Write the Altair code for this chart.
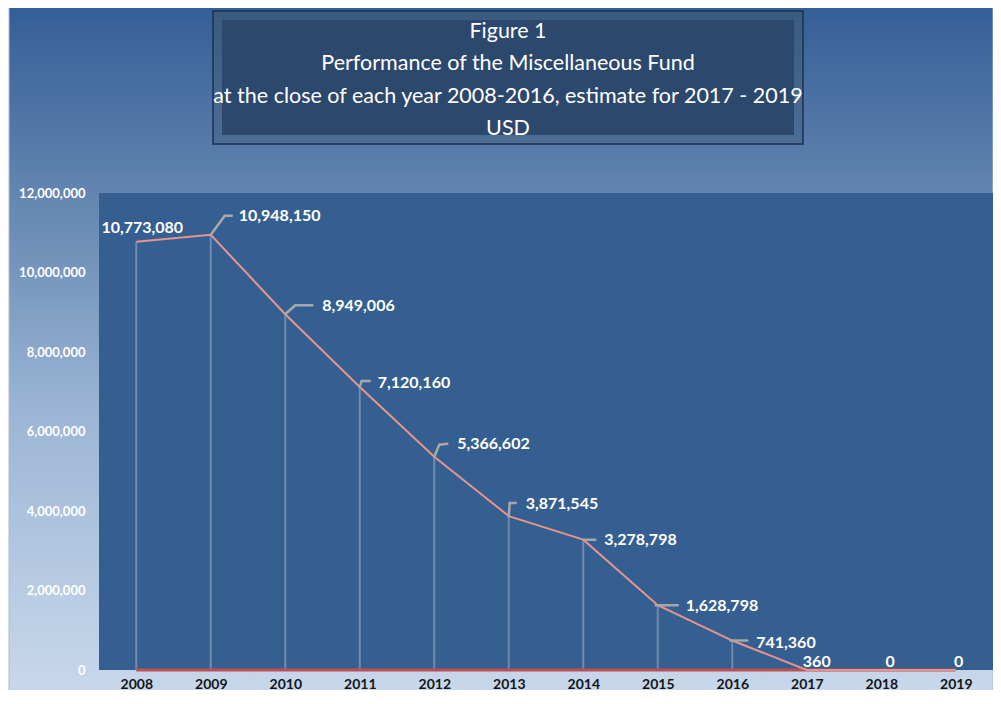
import altair as alt
import pandas as pd

# ---------------- data ----------------
years = [2008, 2009, 2010, 2011, 2012, 2013, 2014, 2015, 2016, 2017, 2018, 2019]
values = [10773080, 10948150, 8949006, 7120160, 5366602, 3871545, 3278798,
          1628798, 741360, 360, 0, 0]
labels = ["10,773,080", "10,948,150", "8,949,006", "7,120,160", "5,366,602",
          "3,871,545", "3,278,798", "1,628,798", "741,360", "360", "0", "0"]
y_ticks = [0, 2000000, 4000000, 6000000, 8000000, 10000000, 12000000]
title_lines = ["Figure 1",
               "Performance of the Miscellaneous Fund",
               "at the close of each year 2008-2016, estimate for 2017 - 2019",
               "USD"]

# ---------------- layout / style ----------------
W, H = 894, 477
PAD = {"left": 91, "top": 185, "right": 0, "bottom": 20}
FONT = "Lato"

# label placement (align, dx, dy) and leader segments in pixel offsets
label_pos = {
    2008: ("center", 6, -14), 2009: ("left", 28, -19), 2010: ("left", 37, -8),
    2011: ("left", 18, -4), 2012: ("left", 23, -13), 2013: ("left", 17, -12),
    2014: ("left", 21, 0), 2015: ("left", 28, 1), 2016: ("left", 24, 2),
    2017: ("center", 10, -8), 2018: ("center", 9, -8), 2019: ("center", 3, -8),
}
leaders = {
    2009: [(0, 0, 14, -19), (14, -19, 21, -19)],
    2010: [(0, 0, 10, -9), (10, -9, 27, -9)],
    2011: [(0, 0, 2, -6), (2, -6, 10, -6)],
    2012: [(0, 0, 5, -12), (5, -12, 13, -13)],
    2013: [(0, 0, 1, -13), (1, -13, 7, -13)],
    2014: [(0, 0, 12, 0)],
    2015: [(-2, 0, 20, 0)],
    2016: [(-2, 0, 15, 0)],
}

df = pd.DataFrame({"year": years, "value": values, "label": labels})
one = pd.DataFrame({"a": [0]})

xs = alt.Scale(domain=[2007.5, 2019.5], nice=False, zero=False)
ys = alt.Scale(domain=[0, 12000000], nice=False)
x_axis = alt.Axis(values=years, labelExpr="format(datum.value, 'd')",
                  title=None, zindex=2)
y_axis = alt.Axis(values=y_ticks, labelExpr="format(datum.value, ',')",
                  title=None, zindex=2)
X = alt.X("year:Q", scale=xs, axis=x_axis)
Y = alt.Y("value:Q", scale=ys, axis=y_axis)

# background gradient
bg = alt.Chart(one).mark_rect(
    fill=alt.Gradient(gradient="linear", x1=0, x2=0, y1=0, y2=1,
                      stops=[alt.GradientStop(color="#335E96", offset=0),
                             alt.GradientStop(color="#6486B1", offset=0.28),
                             alt.GradientStop(color="#9DB6D5", offset=0.6),
                             alt.GradientStop(color="#C8D8EB", offset=1)]),
    stroke="#A9BBD2", strokeWidth=1,
).encode(x=alt.value(-PAD["left"] + 1), x2=alt.value(W + PAD["right"]),
         y=alt.value(-PAD["top"] - 3), y2=alt.value(H + PAD["bottom"] + 2))

plot_bg = alt.Chart(one).mark_rect(fill="#365F91").encode(
    x=alt.value(0), x2=alt.value(W), y=alt.value(0), y2=alt.value(H))

# title box with bevel
tb_outer = alt.Chart(one).mark_rect(
    fill=alt.Gradient(gradient="linear", x1=0, x2=0, y1=0, y2=1,
                      stops=[alt.GradientStop(color="#3A5A80", offset=0),
                             alt.GradientStop(color="#4C6D95", offset=1)]),
    stroke="#1C3150", strokeWidth=1.5,
).encode(x=alt.value(114), x2=alt.value(704), y=alt.value(-182), y2=alt.value(-49))
tb_inner = alt.Chart(one).mark_rect(fill="#2C486D").encode(
    x=alt.value(123), x2=alt.value(695), y=alt.value(-173), y2=alt.value(-58))

title_y = [-161, -129, -96, -64]
title_layers = [
    alt.Chart(one).mark_text(font=FONT, fontSize=21.5, color="white",
                             align="center", baseline="middle").encode(
        x=alt.value(409), y=alt.value(ty), text=alt.value(t))
    for t, ty in zip(title_lines, title_y)
]

base = alt.Chart(df).transform_calculate(zero="0")

drops = base.mark_rule(color="#7F95B4", strokeWidth=2, opacity=0.8).encode(
    x=X, y=Y, y2="zero:Q")
redline = base.mark_line(color="#C0504D", strokeWidth=3).encode(
    x=X, y=alt.Y("zero:Q", scale=ys, axis=y_axis))
line = alt.Chart(df).mark_line(color="#E5948F", strokeWidth=2).encode(x=X, y=Y)

leader_layers = []
for yr, segs in leaders.items():
    for (ax, ay, bx, by) in segs:
        leader_layers.append(
            alt.Chart(df).transform_filter(alt.datum.year == yr).mark_rule(
                color="#A8A8A8", strokeWidth=2.5, strokeCap="round",
                xOffset=ax, yOffset=ay, x2Offset=bx, y2Offset=by,
            ).encode(x=X, y=Y, x2="year:Q", y2="value:Q"))

label_layers = []
for yr, (al, dx, dy) in label_pos.items():
    label_layers.append(
        alt.Chart(df).transform_filter(alt.datum.year == yr).mark_text(
            font=FONT, fontSize=16, fontWeight="bold", color="white",
            align=al, baseline="middle", dx=dx, dy=dy,
        ).encode(x=X, y=Y, text="label:N"))

chart = alt.layer(
    bg, plot_bg, tb_outer, tb_inner, *title_layers,
    drops, redline, line, *leader_layers, *label_layers,
).properties(
    width=W, height=H, padding=PAD,
    autosize=alt.AutoSizeParams(type="none"),
).configure(background="white").configure_view(strokeWidth=0).configure_axis(
    ticks=False, domain=False, grid=False, labelFont=FONT,
    labelFontWeight="bold",
).configure_axisX(
    labelColor="#151515", labelFontSize=14, labelPadding=7,
).configure_axisY(
    labelColor="white", labelFontSize=13, labelPadding=14,
)

chart.save("out.html", embed_options={"renderer": "svg", "actions": False})
